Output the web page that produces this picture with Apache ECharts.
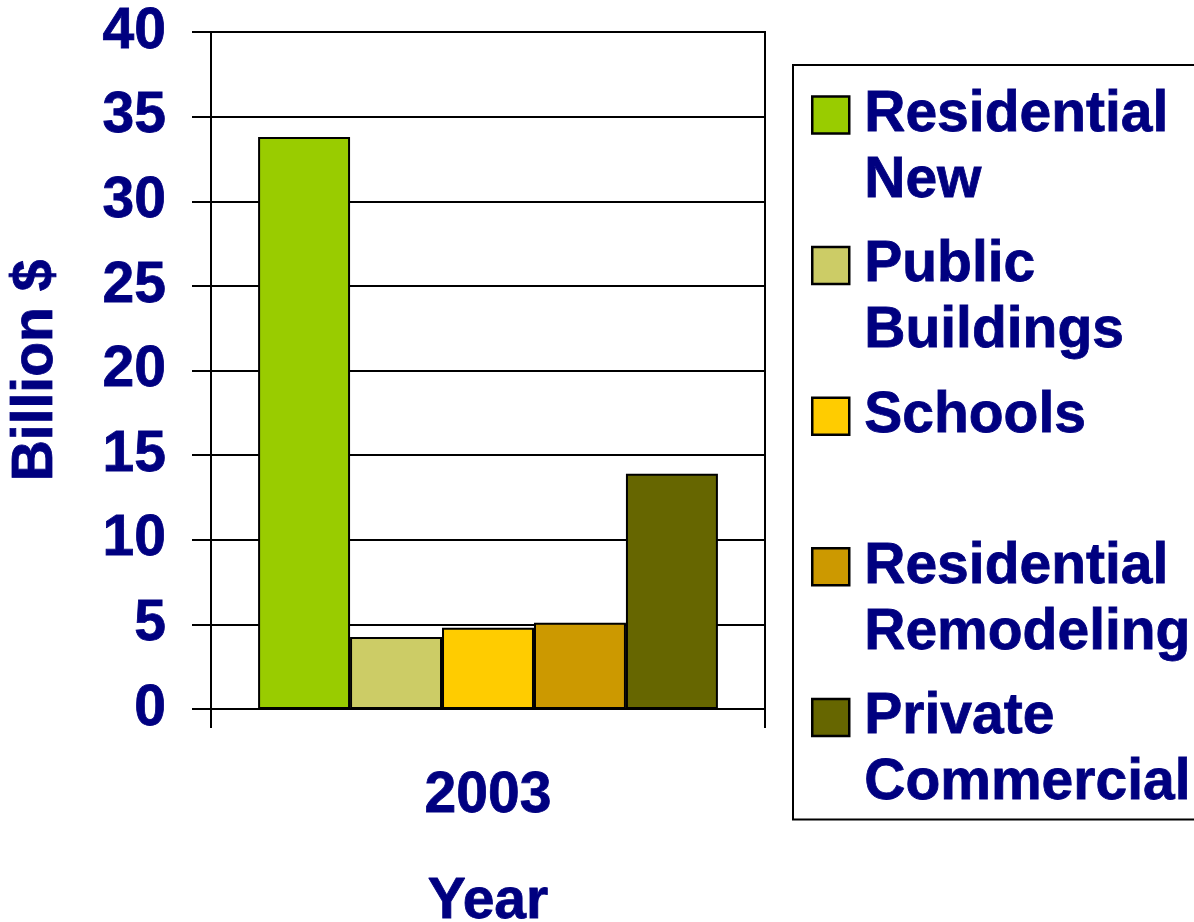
<!DOCTYPE html>
<html>
<head>
<meta charset="utf-8">
<script src="https://cdn.jsdelivr.net/npm/echarts@6/dist/echarts.min.js"></script>
<style>
html,body{margin:0;padding:0;background:#fff;}
#chart{width:1194px;height:922px;}
</style>
</head>
<body>
<div id="chart"></div>
<script>
const categories = ['2003'];
const seriesNames = ['Residential New', 'Public Buildings', 'Schools', 'Residential Remodeling', 'Private Commercial'];
const legendLabels = ['Residential\nNew', 'Public\nBuildings', 'Schools\n ', 'Residential\nRemodeling', 'Private\nCommercial'];
const values = [33.8, 4.25, 4.8, 5.1, 13.9];
const colors = ['#99CC00', '#CCCC66', '#FFCC00', '#CC9900', '#666600'];
const yTicks = { min: 0, max: 40, interval: 5 };
const xTitle = 'Year';
const yTitle = 'Billion $';

const NAVY = '#000080';
const FONT = "'Liberation Sans', Arial, sans-serif";
const FS = 57;

const chart = echarts.init(document.getElementById('chart'), null, { renderer: 'canvas' });

const textBase = { color: NAVY, fontSize: FS, fontWeight: 'bold', fontFamily: FONT, textBorderColor: NAVY, textBorderWidth: 0.8 };

const series = seriesNames.map((name, i) => ({
  name: name,
  type: 'bar',
  data: [values[i]],
  barGap: '0%',
  barCategoryGap: '17%',
  itemStyle: { color: colors[i], borderColor: '#000', borderWidth: 2 },
  emphasis: { disabled: true }
}));

chart.setOption({
  animation: false,
  color: colors,
  grid: {
    left: 211, right: 429, top: 32, bottom: 213,
    outerBoundsMode: 'none',
    containLabel: false,
    show: true, borderColor: '#000', borderWidth: 2, backgroundColor: 'transparent'
  },
  xAxis: {
    type: 'category',
    data: categories,
    name: xTitle,
    nameLocation: 'middle',
    nameGap: 165,
    nameTextStyle: Object.assign({}, textBase),
    axisLine: { lineStyle: { color: '#000', width: 2 } },
    axisTick: { show: true, length: 19, lineStyle: { color: '#000', width: 2 } },
    axisLabel: Object.assign({ margin: 59 }, textBase),
    splitLine: { show: false }
  },
  yAxis: {
    type: 'value',
    min: yTicks.min, max: yTicks.max, interval: yTicks.interval,
    name: yTitle,
    nameLocation: 'middle',
    nameRotate: 90,
    nameGap: 146,
    nameTextStyle: Object.assign({}, textBase),
    axisLine: { show: true, lineStyle: { color: '#000', width: 2 } },
    axisTick: { show: true, length: 19, lineStyle: { color: '#000', width: 2 } },
    axisLabel: Object.assign({ margin: 45 }, textBase),
    splitLine: { show: true, lineStyle: { color: '#000', width: 2 } }
  },
  legend: {
    orient: 'vertical',
    left: 793,
    top: 65,
    selectedMode: false,
    backgroundColor: '#fff',
    borderColor: '#000',
    borderWidth: 2,
    borderRadius: 0,
    padding: [17, 60, 3, 18],
    itemWidth: 37,
    itemHeight: 103,
    itemGap: 18.6,
    icon: 'path://M0,0 L1,0 L1,1 L0,1 Z M0,2.784',
    itemStyle: { borderColor: '#000', borderWidth: 2.5 },
    formatter: function (name) { return legendLabels[seriesNames.indexOf(name)]; },
    textStyle: Object.assign({ lineHeight: 66, padding: [0, 0, 0, 10] }, textBase),
    data: seriesNames
  },
  series: series
});
</script>
</body>
</html>
